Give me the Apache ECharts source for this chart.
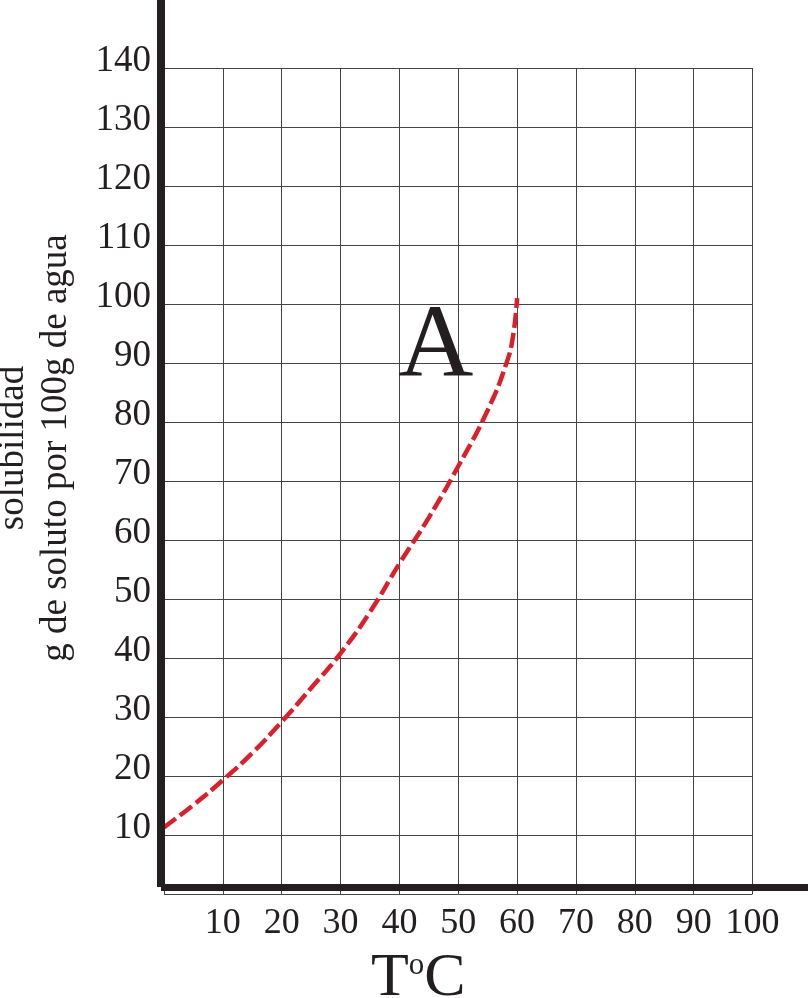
<!DOCTYPE html>
<html>
<head>
<meta charset="utf-8">
<script src="https://cdn.jsdelivr.net/npm/echarts@6/dist/echarts.min.js"></script>
<style>html,body{margin:0;padding:0;background:#fff}#c{width:808px;height:998px}</style>
</head>
<body>
<div id="c"></div>
<script>
// Data
const temperatures = [0, 5, 10, 15, 20, 25, 30, 35, 40, 45, 50, 55, 58.2, 59.3, 60];
const solubilityA  = [11.3, 15.1, 19.3, 23.9, 29.2, 34.9, 40.8, 47.8, 56, 63.8, 72.5, 82, 90, 94.5, 101];
const xTicks = [10, 20, 30, 40, 50, 60, 70, 80, 90, 100];
const yTicks = [10, 20, 30, 40, 50, 60, 70, 80, 90, 100, 110, 120, 130, 140];
const curveLabel = 'A';
const curveLabelAt = [46.2, 92.5];
const yName = ['solubilidad', 'g de soluto por 100g de agua'];

const ink = '#231f20';
const serif = '"Liberation Serif", "Times New Roman", serif';
const chart = echarts.init(document.getElementById('c'), null, {renderer: 'canvas'});
const pts = temperatures.map((t, i) => [t, solubilityA[i]]);

chart.setOption({
  backgroundColor: '#fff',
  animation: false,
  grid: [
    {left: 164, right: 55.5, top: 68, bottom: 104, containLabel: false, outerBoundsMode: 'none'},
    {left: 161, right: 0, top: 0, bottom: 111, containLabel: false, outerBoundsMode: 'none'}
  ],
  xAxis: [
    {
      type: 'value', gridIndex: 0, min: 0, max: 100, interval: 10,
      axisLine: {show: false}, axisTick: {show: false},
      splitLine: {show: true, lineStyle: {color: '#444', width: 1}},
      axisLabel: {
        margin: 12, fontFamily: serif, fontSize: 36, color: ink,
        formatter: v => xTicks.includes(v) ? String(v) : ''
      },
      name: '{t|T}{o|o}{t|C}', nameLocation: 'middle', nameGap: 54,
      nameTextStyle: {
        padding: [0, 80, 0, 0],
        rich: {
          t: {fontFamily: serif, fontSize: 62, color: ink},
          o: {fontFamily: serif, fontSize: 31, color: ink, verticalAlign: 'top', padding: [2, 0, 0, 0]}
        }
      }
    },
    {
      type: 'value', gridIndex: 1, min: 0, max: 1, z: 5,
      axisLine: {show: true, lineStyle: {color: ink, width: 7, cap: 'butt'}},
      axisTick: {show: false}, axisLabel: {show: false}, splitLine: {show: false}
    }
  ],
  yAxis: [
    {
      type: 'value', gridIndex: 0, min: 0, max: 140, interval: 10,
      axisLine: {show: false}, axisTick: {show: false},
      splitLine: {show: true, lineStyle: {color: '#444', width: 1}},
      axisLabel: {
        margin: 13, fontFamily: serif, fontSize: 37, color: ink,
        verticalAlign: 'bottom', lineHeight: 13,
        formatter: v => yTicks.includes(v) ? String(v) : ''
      },
      name: yName.join('\n'), nameLocation: 'middle', nameRotate: 90, nameGap: 86,
      nameTextStyle: {fontFamily: serif, fontSize: 37, lineHeight: 43, color: ink, padding: [0, 0, 0, 66]}
    },
    {
      type: 'value', gridIndex: 1, min: 0, max: 1, z: 5,
      axisLine: {show: true, lineStyle: {color: ink, width: 8, cap: 'butt'}},
      axisTick: {show: false}, axisLabel: {show: false}, splitLine: {show: false}
    }
  ],
  series: [
    {
      type: 'line', xAxisIndex: 0, yAxisIndex: 0,
      data: pts, smooth: 0.5, showSymbol: false, z: 3,
      lineStyle: {color: '#d9202b', width: 4.5, type: [15, 5]},
      markPoint: {
        symbol: 'circle', symbolSize: 0, silent: true,
        data: [{coord: curveLabelAt, value: curveLabel}],
        label: {show: true, position: 'inside', formatter: curveLabel,
                fontFamily: serif, fontSize: 104, color: ink}
      }
    }
  ]
});
</script>
</body>
</html>
